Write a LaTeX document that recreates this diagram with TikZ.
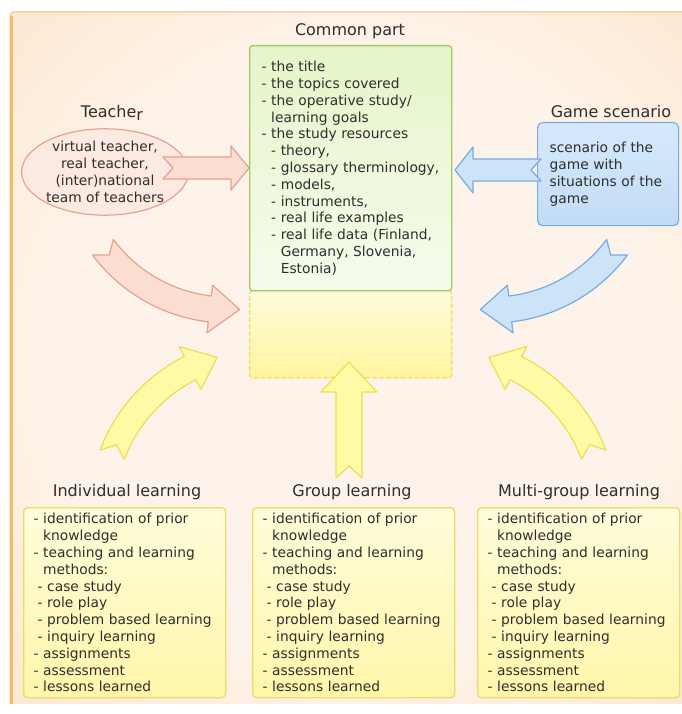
\documentclass[tikz,border=0pt]{standalone}
\usepackage{fontspec}
\setmainfont{DejaVu Sans}
\usetikzlibrary{calc,shapes.geometric}

\definecolor{ink}{HTML}{2E2E2E}
\definecolor{bgin}{HTML}{FEF3EA}
\definecolor{bgout}{HTML}{FCDDB6}
\definecolor{frameline}{HTML}{F3BC6A}
\definecolor{commonline}{HTML}{9DCB62}
\definecolor{commontop}{HTML}{E5F5C9}
\definecolor{commonbot}{HTML}{F6FBEC}
\definecolor{slotline}{HTML}{EFDE5E}
\definecolor{slottop}{HTML}{FFFBDD}
\definecolor{slotbot}{HTML}{FFF59E}
\definecolor{gameline}{HTML}{79ACDD}
\definecolor{gametop}{HTML}{D6E9FB}
\definecolor{gamebot}{HTML}{C2DCF6}
\definecolor{teachline}{HTML}{E6A290}
\definecolor{teachfill}{HTML}{FCE9E2}
\definecolor{learnline}{HTML}{EDDC62}
\definecolor{learntop}{HTML}{FFFCDA}
\definecolor{learnbot}{HTML}{FFF6AA}
\definecolor{yelfill}{HTML}{FFFAA6}
\definecolor{yelline}{HTML}{EEDD55}
\definecolor{pinkfill}{HTML}{FCDDD2}
\definecolor{pinkline}{HTML}{E6A08D}
\definecolor{bluefill}{HTML}{CDE3F8}
\definecolor{blueline}{HTML}{77ACE0}

\pgfdeclareradialshading{bgshade}{\pgfpoint{0bp}{0bp}}{color(0bp)=(bgin); color(22bp)=(bgin); color(50bp)=(bgout); color(70bp)=(bgout)}

% bent block arrow: style, centre, radius, tail angle, head angle, tip angle, notch angle
\newcommand{\bentarrow}[7]{%
  \draw[#1] ($(#2)+(#4:#3+13)$) arc[start angle=#4, end angle=#5, radius=#3+13]
    -- ($(#2)+(#5:#3+24)$) -- ($(#2)+(#6:#3)$) -- ($(#2)+(#5:#3-24)$)
    -- ($(#2)+(#5:#3-13)$) arc[start angle=#5, end angle=#4, radius=#3-13]
    -- ($(#2)+(#7:#3)$) -- cycle;}

\newcommand{\learnitems}{%
- identification of prior\\
\phantom{-\ }knowledge\\
- teaching and learning\\
\phantom{-\ }methods:\\
\hspace*{4pt}- case study\\
\hspace*{4pt}- role play\\
\hspace*{4pt}- problem~based~learning\\
\hspace*{4pt}- inquiry learning\\
- assignments\\
- assessment\\
- lessons learned}

\begin{document}
\begin{tikzpicture}[x=1pt,y=1pt]

      \tikzset{heading/.style={font=\fontsize{16}{19}\selectfont, text=ink},
               body/.style={font=\fontsize{13.8}{16.8}\selectfont, text=ink, align=left},
               commonbox/.style={body, draw=commonline, line width=1.3pt, rounded corners=3pt, top color=commontop, bottom color=commonbot, anchor=north west, text width=178pt, inner xsep=12pt, minimum height=245pt},
               slotbox/.style={draw=slotline, line width=1.3pt, dash pattern=on 5pt off 2pt, rounded corners=3pt, top color=slottop, bottom color=slotbot, anchor=north west, minimum width=202pt, minimum height=87pt, inner sep=0pt},
               gamebox/.style={body, draw=gameline, line width=1.2pt, rounded corners=5pt, top color=gametop, bottom color=gamebot, anchor=north west, text width=117pt, inner xsep=12pt, minimum height=103pt},
               teachbox/.style={body, align=center, ellipse, draw=teachline, line width=1.2pt, fill=teachfill, minimum width=153pt, minimum height=81pt, inner sep=0pt},
               learnbox/.style={body, draw=learnline, line width=1.3pt, rounded corners=4pt, top color=learntop, bottom color=learnbot, anchor=north west, text width=182pt, inner xsep=10pt, minimum height=190pt},
               pinkarrow/.style={draw=pinkline, fill=pinkfill, line width=1.2pt, line join=round},
               bluearrow/.style={draw=blueline, fill=bluefill, line width=1.2pt, line join=round},
               yelarrow/.style={draw=yelline, fill=yelfill, line width=1.2pt, line join=round}}

      \useasboundingbox (0,0) rectangle (681,-714);
      \fill[white] (0,0) rectangle (681,-714);
%% Background
      \path[shading=bgshade, rounded corners=4pt] (10,-12) rectangle (700,-704);
      \draw[frameline, line width=1pt, rounded corners=4pt] (700,-12) -- (10,-12) -- (10,-704);
      \draw[frameline, line width=3pt] (11.5,-16) -- (11.5,-704);
%% Boxes
      \node[slotbox] (slot) at (249,-290) {};
      \node[commonbox] (common) at (249,-45) {- the title\\
- the topics covered\\
- the operative study/\\
\phantom{-\ }learning goals\\
- the study resources\\
\phantom{-\ }- theory,\\
\phantom{-\ }- glossary~therminology,\\
\phantom{-\ }- models,\\
\phantom{-\ }- instruments,\\
\phantom{-\ }- real life examples\\
\phantom{-\ }- real~life~data~(Finland,\\
\phantom{-\ -\ }Germany, Slovenia,\\
\phantom{-\ -\ }Estonia)};
      \node[teachbox] (teacher) at (105,-172) {virtual teacher,\\ real teacher,\\ (inter)national\\ team of teachers};
      \node[gamebox] (game) at (537,-122) {scenario of the\\ game with\\ situations~of~the\\ game};
      \node[learnbox] (indiv) at (23,-507) {\learnitems};
      \node[learnbox] (group) at (252,-507) {\learnitems};
      \node[learnbox] (multi) at (477,-507) {\learnitems};
%% Titles
      \node[heading] (commonlbl) at (350,-31) {Common part};
      \node[heading] (teacherlbl) at (112,-113) {Teache\raisebox{-3pt}{r}};
      \node[heading] (gamelbl) at (611,-112) {Game scenario};
      \node[heading] (indivlbl) at (127,-492) {Individual learning};
      \node[heading] (grouplbl) at (352,-492) {Group learning};
      \node[heading] (multilbl) at (579,-492) {Multi-group learning};
%% Arrows
      \draw[pinkarrow] (163,-157) -- (231,-157) -- (231,-146) -- (249,-168) -- (231,-190) -- (231,-179) -- (163,-179) -- (173,-168) -- cycle;
      \draw[bluearrow] (541,-159) -- (473,-159) -- (473,-147) -- (455,-170) -- (473,-193) -- (473,-181) -- (541,-181) -- (531,-170) -- cycle;
      \draw[yelarrow] (336,-478) -- (336,-392) -- (321,-392) -- (349,-362) -- (377,-392) -- (362,-392) -- (362,-478) -- (349,-466) -- cycle;
      \coordinate (ctp) at (228,-154);
      \coordinate (cgm) at (492,-154);
      \coordinate (cin) at (262,-511);
      \coordinate (cmu) at (444,-511);
      \bentarrow{pinkarrow}{ctp}{156}{216.7}{263.3}{274.3}{220.4}
      \bentarrow{bluearrow}{cgm}{156}{323.3}{276.7}{265.7}{319.6}
      \bentarrow{yelarrow}{cin}{160}{159.4}{116.7}{106.3}{155.5}
      \bentarrow{yelarrow}{cmu}{160}{20.6}{63.3}{73.7}{24.5}

\end{tikzpicture}
\end{document}
